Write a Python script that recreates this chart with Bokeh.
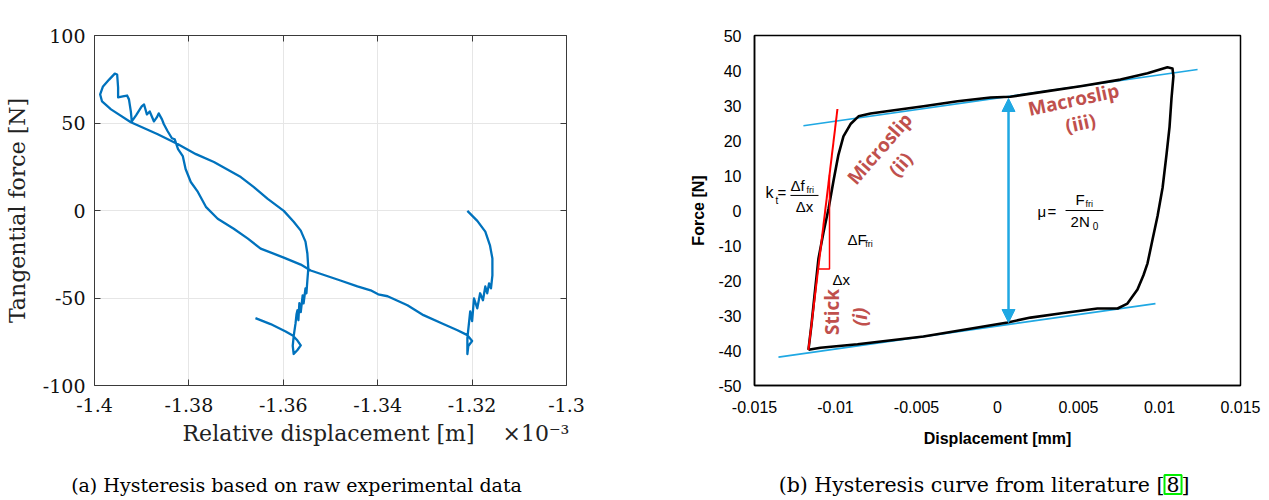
from bokeh.plotting import figure
from bokeh.models import FixedTicker, LinearAxis, Label, Arrow, NormalHead
from bokeh.layouts import row, column
from bokeh.embed import file_html
from bokeh.resources import INLINE

# ---------------- Panel (a): raw experimental data (x in units of 1e-3 m) -------------
raw_disp = [-1.3659, -1.3627, -1.3595, -1.3580, -1.3570, -1.3563, -1.3570, -1.3578, -1.3580, -1.3578,
            -1.3574, -1.3572, -1.3570, -1.3568, -1.3566, -1.3563, -1.3559, -1.3557, -1.3553, -1.3551,
            -1.3549, -1.3547, -1.3549, -1.3553, -1.3563, -1.3578, -1.3599, -1.3633, -1.3663, -1.3690,
            -1.3747, -1.3785, -1.3823, -1.3866, -1.3923, -1.3965, -1.3984, -1.3988, -1.3982, -1.3969,
            -1.3957, -1.3952, -1.3950, -1.3950, -1.3940, -1.3931, -1.3927, -1.3923, -1.3921, -1.3912,
            -1.3900, -1.3895, -1.3889, -1.3883, -1.3874, -1.3868, -1.3864, -1.3857, -1.3853, -1.3845,
            -1.3836, -1.3830, -1.3823, -1.3813, -1.3807, -1.3796, -1.3781, -1.3764, -1.3739, -1.3705,
            -1.3675, -1.3648, -1.3599, -1.3563, -1.3542, -1.3479, -1.3443, -1.3415, -1.3399, -1.3379,
            -1.3337, -1.3303, -1.3261, -1.3231, -1.3210, -1.3200, -1.3208, -1.3210, -1.3210, -1.3204,
            -1.3200, -1.3196, -1.3189, -1.3183, -1.3177, -1.3172, -1.3168, -1.3164, -1.3160, -1.3157,
            -1.3157, -1.3162, -1.3172, -1.3189, -1.3210]
raw_force = [-61.5, -64.9, -69.1, -71.4, -74.3, -77.1, -79.7, -82.0, -77.4, -71.8,
             -64.4, -59.3, -57.0, -62.7, -53.0, -58.1, -48.5, -53.0, -44.5, -47.3,
             -40.0, -33.1, -24.6, -17.8, -11.5, -6.4, -0.2, 6.6, 13.5, 19.1,
             27.7, 32.2, 37.9, 43.6, 50.4, 57.8, 62.3, 66.3, 70.9, 74.8,
             78.2, 77.7, 70.3, 64.6, 65.2, 65.7, 63.5, 56.6, 50.9, 54.4,
             59.5, 60.6, 54.9, 56.6, 50.9, 53.2, 55.5, 52.1, 49.3, 45.3,
             41.3, 40.7, 35.1, 31.1, 23.7, 16.3, 10.6, 2.1, -4.7, -10.4,
             -16.1, -21.8, -26.9, -30.9, -34.3, -40.0, -43.4, -45.6, -47.9, -49.0,
             -54.1, -59.8, -64.9, -68.4, -71.2, -74.6, -77.4, -82.0, -72.9, -57.6,
             -63.2, -50.2, -55.9, -47.3, -51.3, -43.4, -47.3, -41.6, -44.5, -37.1,
             -27.4, -20.1, -12.1, -5.9, -0.2]
raw_x_ticks = [-1.4, -1.38, -1.36, -1.34, -1.32, -1.3]
raw_x_labels = ["-1.4", "-1.38", "-1.36", "-1.34", "-1.32", "-1.3"]
raw_y_ticks = [-100, -50, 0, 50, 100]
raw_y_labels = ["-100", "-50", "0", "50", "100"]

# ---------------- Panel (b): literature hysteresis -------------
lit_disp = [-0.01167, -0.01148, -0.01130, -0.01105, -0.01074, -0.01043, -0.01012, -0.00982, -0.00951, -0.00907,
            -0.00858, -0.00784, -0.00661, -0.00457, -0.00247, -0.00043, 0.00080, 0.00309, 0.00512, 0.00759,
            0.00926, 0.01049, 0.01080, 0.01086, 0.01074, 0.01062, 0.01043, 0.01019, 0.00988, 0.00957,
            0.00926, 0.00901, 0.00864, 0.00802, 0.00741, 0.00617, 0.00407, 0.00204, 0.00062, -0.00105,
            -0.00457, -0.00864, -0.01093, -0.01167]
lit_force = [-39.8, -32.5, -24.5, -13.7, -6.2, 0.5, 8.6, 15.9, 21.2, 24.7,
             26.9, 27.7, 28.5, 29.8, 31.2, 32.3, 32.5, 34.1, 35.5, 37.4,
             39.2, 40.9, 40.6, 38.4, 32.0, 23.9, 15.9, 6.5, -1.6, -8.3,
             -15.1, -18.5, -22.6, -26.6, -28.0, -28.0, -29.3, -30.6, -32.0, -33.3,
             -36.0, -38.2, -39.2, -39.8]
top_tangent_x = [-0.01198, 0.01235]
top_tangent_y = [24.2, 40.3]
bottom_tangent_x = [-0.01352, 0.00975]
bottom_tangent_y = [-41.9, -26.6]
stick_line_x = [-0.01167, -0.00988]
stick_line_y = [-39.8, 29.0]
stick_tri_x = [-0.01107, -0.01037, -0.01037]
stick_tri_y = [-16.7, -16.7, 10.2]
ffri_arrow_x = [0.00068, 0.00068]
ffri_arrow_y = [-32.0, 32.0]
lit_x_ticks = [-0.015, -0.01, -0.005, 0, 0.005, 0.01, 0.015]
lit_x_labels = ["-0.015", "-0.01", "-0.005", "0", "0.005", "0.01", "0.015"]
lit_y_ticks = [-50, -40, -30, -20, -10, 0, 10, 20, 30, 40, 50]
lit_y_labels = ["-50", "-40", "-30", "-20", "-10", "0", "10", "20", "30", "40", "50"]

caption_a = "(a) Hysteresis based on raw experimental data"
caption_b_parts = ["(b) Hysteresis curve from literature [", "8", "]"]

SERIF = "DejaVu Serif"
SANS = "Liberation Sans"
NBSP = "\u00a0"

# ======================= Figure (a) =======================
p1 = figure(width=634, height=460, x_range=(-1.4, -1.3), y_range=(-100, 100),
            output_backend="svg", toolbar_location=None,
            min_border_left=94, min_border_right=68, min_border_top=35, min_border_bottom=73,
            outline_line_color=None)
p1.xaxis.visible = False
p1.yaxis.visible = False

axcol = "#3a3a3a"
def mk_axis(ticks, labels, show):
    ax = LinearAxis(ticker=FixedTicker(ticks=ticks),
                    major_label_overrides={t: l for t, l in zip(ticks, labels)},
                    axis_line_color=axcol, axis_line_width=1,
                    major_tick_line_color=axcol, major_tick_in=6, major_tick_out=0,
                    minor_tick_line_color=None,
                    major_label_text_font=SERIF, major_label_text_font_size="19px",
                    major_label_text_color="#111111")
    if not show:
        ax.major_label_text_color = None
        ax.major_label_standoff = 0
    return ax

xb = mk_axis(raw_x_ticks, raw_x_labels, True)
xb.major_label_standoff = 12
# label centred on the frame; leading no-break spaces shift the visible text so that
# "Relative displacement [m]" sits where it is in the reference and "×10⁻³" lands at the right end
xb.axis_label = NBSP * 13 + "Relative displacement [m]" + NBSP * 4 + "×10⁻³"
xb.axis_label_text_font = SERIF
xb.axis_label_text_font_size = "22px"
xb.axis_label_text_font_style = "normal"
xb.axis_label_text_color = "#222222"
xb.axis_label_standoff = 6
p1.add_layout(xb, "below")
yl = mk_axis(raw_y_ticks, raw_y_labels, True)
yl.major_label_standoff = 9
yl.axis_label = "Tangential force [N]"
yl.axis_label_text_font = SERIF
yl.axis_label_text_font_size = "22px"
yl.axis_label_text_font_style = "normal"
yl.axis_label_text_color = "#222222"
yl.axis_label_standoff = 10
p1.add_layout(yl, "left")
p1.add_layout(mk_axis(raw_x_ticks, raw_x_labels, False), "above")
p1.add_layout(mk_axis(raw_y_ticks, raw_y_labels, False), "right")

p1.xgrid.ticker = FixedTicker(ticks=raw_x_ticks)
p1.ygrid.ticker = FixedTicker(ticks=raw_y_ticks)
p1.grid.grid_line_color = "#e6e6e6"
p1.grid.grid_line_width = 1

p1.line(raw_disp, raw_force, line_color="#0072BD", line_width=2.3, line_join="round")

# ======================= Figure (b) =======================
p2 = figure(width=635, height=460, x_range=(-0.015, 0.015), y_range=(-50, 50),
            output_backend="svg", toolbar_location=None,
            min_border_left=120, min_border_right=29, min_border_top=13, min_border_bottom=75,
            outline_line_color="black", outline_line_width=1.5)
p2.grid.visible = False
p2.xaxis.ticker = FixedTicker(ticks=lit_x_ticks)
p2.xaxis.major_label_overrides = {t: l for t, l in zip(lit_x_ticks, lit_x_labels)}
p2.yaxis.ticker = FixedTicker(ticks=lit_y_ticks)
p2.yaxis.major_label_overrides = {t: l for t, l in zip(lit_y_ticks, lit_y_labels)}
for ax in (p2.xaxis, p2.yaxis):
    ax.axis_line_color = "black"
    ax.axis_line_width = 1.5
    ax.major_tick_line_color = None
    ax.minor_tick_line_color = None
    ax.major_label_text_font = SANS
    ax.major_label_text_font_size = "16px"
    ax.major_label_text_color = "black"
    ax.axis_label_text_font = SANS
    ax.axis_label_text_font_size = "16px"
    ax.axis_label_text_font_style = "bold"
    ax.axis_label_text_color = "black"
p2.xaxis.major_label_standoff = 9
p2.yaxis.major_label_standoff = 7
p2.xaxis.axis_label = "Displacement [mm]"
p2.yaxis.axis_label = "Force [N]"
p2.xaxis.axis_label_standoff = 14
p2.yaxis.axis_label_standoff = 8

blue = "#1fa8e3"
red_txt = "#c0504d"
p2.line(top_tangent_x, top_tangent_y, line_color=blue, line_width=1.6)
p2.line(bottom_tangent_x, bottom_tangent_y, line_color=blue, line_width=1.6)
p2.line(lit_disp, lit_force, line_color="black", line_width=2.6, line_join="round")
p2.line(stick_line_x, stick_line_y, line_color="#ff0000", line_width=2)
p2.line(stick_tri_x, stick_tri_y, line_color="#ff0000", line_width=1.5)
p2.add_layout(Arrow(x_start=ffri_arrow_x[0], y_start=ffri_arrow_y[0],
                    x_end=ffri_arrow_x[1], y_end=ffri_arrow_y[1],
                    line_color=blue, line_width=2.5,
                    start=NormalHead(size=13, fill_color=blue, line_color=blue),
                    end=NormalHead(size=13, fill_color=blue, line_color=blue)))

def lab(fig, x, y, t, size, **kw):
    d = dict(text_font=SANS, text_baseline="middle", text_align="left", text_color="black")
    d.update(kw)
    fig.add_layout(Label(x=x, y=y, text=t, text_font_size=size, **d))

# region names
rk = dict(text_font="Open Sans", text_font_style="bold", text_color=red_txt,
          text_align="center", angle_units="deg")
lab(p2, -0.00728, 17.7, "Microslip", "19px", angle=49, **rk)
lab(p2, -0.00599, 13.2, "(ii)", "19px", angle=49, **rk)
lab(p2, 0.00469, 31.7, "Macroslip", "19px", angle=12, **rk)
lab(p2, 0.00512, 25.0, "(iii)", "19px", angle=12, **rk)
lab(p2, -0.01019, -29.0, "Stick", "19px", angle=90, **rk)
rk_i = dict(rk)
rk_i["text_font_style"] = "bold italic"
lab(p2, -0.00846, -30.4, "(i)", "19px", angle=90, **rk_i)

# k_t formula
lab(p2, -0.01432, 5.1, "k", "16px")
lab(p2, -0.01370, 3.0, "t", "10px")
lab(p2, -0.01358, 5.1, "=", "15px")
lab(p2, -0.01278, 7.2, "Δf", "15px")
lab(p2, -0.01179, 6.0, "fri", "9px")
p2.line([-0.01278, -0.01105], [4.3, 4.3], line_color="black", line_width=1)
lab(p2, -0.01192, 1.2, "Δx", "15px", text_align="center")
# delta labels
lab(p2, -0.00926, -8.3, "ΔF", "15px")
lab(p2, -0.00816, -9.5, "fri", "9px")
lab(p2, -0.01019, -19.6, "Δx", "15px")
# mu formula
lab(p2, 0.00247, -0.3, "μ", "15px")
lab(p2, 0.00309, -0.3, "=", "15px")
lab(p2, 0.00481, 3.1, "F", "15px")
lab(p2, 0.00543, 2.0, "fri", "9px")
p2.line([0.00420, 0.00654], [0.0, 0.0], line_color="black", line_width=1)
lab(p2, 0.00451, -3.2, "2N", "15px")
lab(p2, 0.00588, -4.4, "0", "10px")

# ======================= Captions =======================
def cap_fig(w):
    c = figure(width=w, height=40, x_range=(0, w), y_range=(0, 40), output_backend="svg",
               toolbar_location=None, min_border=0, outline_line_color=None)
    c.axis.visible = False
    c.grid.visible = False
    return c

c1 = cap_fig(634)
lab(c1, 296, 16, caption_a, "19px", text_font=SERIF, text_align="center")
c2 = cap_fig(635)
lab(c2, 530, 16, caption_b_parts[0], "20.5px", text_font=SERIF, text_align="right")
lab(c2, 530, 16, caption_b_parts[1], "20.5px", text_font=SERIF, text_align="left",
    border_line_color="#00ee00", border_line_width=2, padding=2)
lab(c2, 547, 16, caption_b_parts[2], "20.5px", text_font=SERIF, text_align="left")

layout = column(row(p1, p2), row(c1, c2))
open("out.html", "w").write(file_html(layout, INLINE))
